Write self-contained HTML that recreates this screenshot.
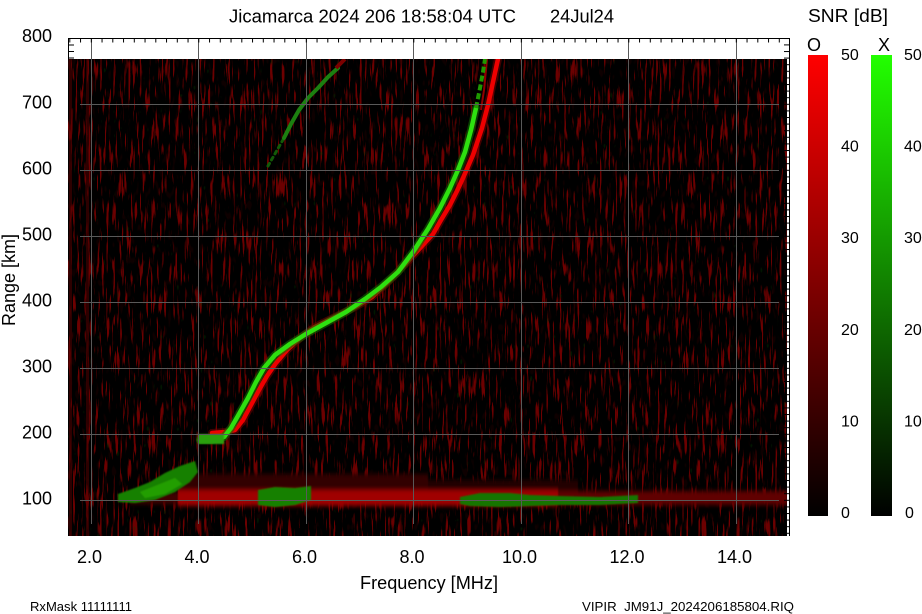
<!DOCTYPE html>
<html><head><meta charset="utf-8"><style>
html,body{margin:0;padding:0;background:#fff;}
svg{display:block;}
text{font-family:"Liberation Sans",Arial,sans-serif;fill:#000;}
</style></head><body>
<svg width="922" height="614" viewBox="0 0 922 614" xmlns="http://www.w3.org/2000/svg">
<defs>
 <clipPath id="clip"><rect x="68" y="59" width="719" height="477"/></clipPath>
 <filter id="nz" filterUnits="userSpaceOnUse" x="68" y="59" width="719" height="477" color-interpolation-filters="sRGB">
  <feTurbulence type="fractalNoise" baseFrequency="0.45 0.035" numOctaves="2" seed="5"/>
  <feColorMatrix type="matrix" values="0 0 0 0 0.55  0 0 0 0 0  0 0 0 0 0  10 0 0 0 -5.9"/>
 </filter>
 <filter id="nz2" filterUnits="userSpaceOnUse" x="68" y="59" width="719" height="477" color-interpolation-filters="sRGB">
  <feTurbulence type="fractalNoise" baseFrequency="0.25 0.09" numOctaves="1" seed="21"/>
  <feColorMatrix type="matrix" values="0 0 0 0 0.35  0 0 0 0 0  0 0 0 0 0  10 0 0 0 -6.0"/>
 </filter>
 <filter id="nzg" filterUnits="userSpaceOnUse" x="68" y="59" width="719" height="477" color-interpolation-filters="sRGB">
  <feTurbulence type="fractalNoise" baseFrequency="0.3 0.12" numOctaves="1" seed="11"/>
  <feColorMatrix type="matrix" values="0 0 0 0 0  0 0 0 0 0.25  0 0 0 0 0  0 14 0 0 -10.2"/>
 </filter>
 <filter id="bl" x="-20%" y="-50%" width="140%" height="200%"><feGaussianBlur stdDeviation="0.6 2.5"/></filter>
 <filter id="bl1" x="-20%" y="-20%" width="140%" height="140%"><feGaussianBlur stdDeviation="0.8"/></filter>
 <linearGradient id="gO" x1="0" y1="0" x2="0" y2="1">
  <stop offset="0" stop-color="#ff0000"/><stop offset="1" stop-color="#000000"/>
 </linearGradient>
 <linearGradient id="gX" x1="0" y1="0" x2="0" y2="1">
  <stop offset="0" stop-color="#22ff00"/><stop offset="1" stop-color="#000000"/>
 </linearGradient>
 <pattern id="tt" patternUnits="userSpaceOnUse" x="69.3" y="0" width="10.75" height="10">
  <rect x="0" y="0" width="1" height="10" fill="#000"/>
 </pattern>
 <pattern id="rt" patternUnits="userSpaceOnUse" x="0" y="37.8" width="10" height="6.6">
  <rect x="0" y="0" width="10" height="1" fill="#000"/>
 </pattern>
</defs>

<rect x="0" y="0" width="922" height="614" fill="#fff"/>

<g clip-path="url(#clip)">
 <rect x="68" y="59" width="719" height="477" fill="#000"/>
 <!-- background noise, stronger on the left -->
 <rect x="68" y="59" width="719" height="477" fill="#fff" filter="url(#nz2)" opacity="0.16"/>
 <rect x="68" y="59" width="719" height="477" fill="#fff" filter="url(#nz)" opacity="0.1"/>
 <rect x="68" y="59" width="230" height="477" fill="#fff" filter="url(#nz)" opacity="0.22"/>
 <rect x="68" y="59" width="170" height="477" fill="#fff" filter="url(#nz)" opacity="0.35"/>
 <rect x="68" y="59" width="100" height="477" fill="#fff" filter="url(#nz)" opacity="0.5"/>
 <rect x="68" y="59" width="719" height="477" fill="#fff" filter="url(#nzg)" opacity="0.35"/>
 <rect x="86" y="59" width="3" height="477" fill="#5a0000" opacity="0.5"/>
 <rect x="69" y="59" width="3" height="477" fill="#5a0000" opacity="0.5"/>

 <!-- E layer red band -->
 <g filter="url(#bl)">
  <rect x="178" y="474" width="250" height="18" fill="#320000"/>
  <rect x="428" y="480" width="150" height="12" fill="#240000"/>
  <rect x="130" y="492" width="48" height="12" fill="#400000"/>
  <rect x="178" y="490" width="380" height="16" fill="#a00000"/>
  <rect x="558" y="491" width="229" height="14" fill="#600000"/>
 </g>

 <!-- green E blobs -->
 <g filter="url(#bl1)">
  <polygon points="118,494 135,488 150,482 165,473 180,466 195,461 198,472 190,482 175,492 155,500 135,503 118,502" fill="#178000"/>
  <polygon points="140,492 160,484 175,478 182,484 165,494 145,498" fill="#239e00"/>
  <polygon points="258,490 275,487 295,488 311,486 311,500 295,505 275,507 258,505" fill="#178000"/>
  <polygon points="460,497 480,493 510,493 530,495 560,496 600,497 638,495 638,503 600,505 560,505 530,506 500,507 470,506 460,504" fill="#147400"/>
 </g>

 <!-- faint echo -->
 <polyline points="268,166 276,152 284,138" fill="none" stroke="#135a08" stroke-width="3" stroke-dasharray="3,4" stroke-linecap="round"/>
 <polyline points="284,138 291,124 299,110 308,98 318,88 328,77 338,68" fill="none" stroke="#1c8010" stroke-width="4" stroke-linejoin="round" stroke-linecap="round"/>
 <polyline points="336,68 341,63 345,59" fill="none" stroke="#7a0000" stroke-width="4"/>

 <!-- O trace (red) -->
 <polyline points="212,433 225,432 235,430 243,420 251,405 259,390 267,376 276,363 287,350 300,338 315,327 335,317 355,307 372,297 390,280 408,261 422,246 433,234 441,220 450,205 457,191 463,178 473,155 482,128 488,105 493,82 498,59" fill="none" stroke="#6a0000" stroke-width="8" stroke-linejoin="round" stroke-linecap="round" opacity="0.6"/>
 <polyline points="212,433 225,432 235,430 243,420 251,405 259,390 267,376 276,363 287,350 300,338 315,327 335,317 355,307 372,297 390,280 408,261 422,246 433,234 441,220 450,205 457,191 463,178 473,155 482,128 488,105 493,82 498,59" fill="none" stroke="#ee0000" stroke-width="4.5" stroke-linejoin="round" stroke-linecap="round"/>
 <polyline points="481,110 484,90 486,70 487,59" fill="none" stroke="#900000" stroke-width="2"/>

 <!-- X trace (green) -->
 <polyline points="200,440 212,440 224,437 231,428 239,414 248,398 256,382 264,368 275,355 290,344 306,334 326,323 346,312 365,299 381,287 398,272 413,252 428,229 440,208 450,188 458,170 465,152 471,130 476,108" fill="none" stroke="#0e6a00" stroke-width="8" stroke-linejoin="round" stroke-linecap="round" opacity="0.6"/>
 <polyline points="200,440 212,440 224,437 231,428 239,414 248,398 256,382 264,368 275,355 290,344 306,334 326,323 346,312 365,299 381,287 398,272 413,252 428,229 440,208 450,188 458,170 465,152 471,130 476,108" fill="none" stroke="#2ee010" stroke-width="4.5" stroke-linejoin="round" stroke-linecap="round"/>
 <polyline points="476,108 480,88 483,72 485,59" fill="none" stroke="#1e9a00" stroke-width="4" stroke-dasharray="6,3"/>
 <rect x="198" y="434" width="26" height="10" fill="#2aa010" filter="url(#bl1)"/>
</g>

<!-- gridlines -->
<g stroke="#595959" stroke-width="1">
 <line x1="91.5" y1="38" x2="91.5" y2="524"/>
 <line x1="198.5" y1="38" x2="198.5" y2="524"/>
 <line x1="306.5" y1="38" x2="306.5" y2="524"/>
 <line x1="413.5" y1="38" x2="413.5" y2="524"/>
 <line x1="521.5" y1="38" x2="521.5" y2="524"/>
 <line x1="628.5" y1="38" x2="628.5" y2="524"/>
 <line x1="736.5" y1="38" x2="736.5" y2="524"/>
 <line x1="80" y1="104.5" x2="779" y2="104.5"/>
 <line x1="80" y1="170.5" x2="779" y2="170.5"/>
 <line x1="80" y1="236.5" x2="779" y2="236.5"/>
 <line x1="80" y1="302.5" x2="779" y2="302.5"/>
 <line x1="80" y1="368.5" x2="779" y2="368.5"/>
 <line x1="80" y1="434.5" x2="779" y2="434.5"/>
 <line x1="80" y1="500.5" x2="779" y2="500.5"/>
</g>

<!-- frame -->
<rect x="787" y="59" width="2" height="477" fill="#fff"/>
<rect x="68" y="38" width="721" height="4.5" fill="url(#tt)"/>
<rect x="784" y="38" width="5" height="498" fill="url(#rt)"/>
<g stroke="#000" stroke-width="1">
 <line x1="68" y1="38.5" x2="789.5" y2="38.5"/>
 <line x1="68.5" y1="38" x2="68.5" y2="59"/>
 <line x1="789.5" y1="38" x2="789.5" y2="536"/>
 <line x1="68" y1="45" x2="74" y2="45"/>
 <line x1="68" y1="51.5" x2="74" y2="51.5"/>
 <line x1="68" y1="58" x2="74" y2="58"/>
</g>

<!-- titles -->
<text x="229" y="22.5" font-size="18" textLength="287" lengthAdjust="spacingAndGlyphs">Jicamarca 2024 206 18:58:04 UTC</text>
<text x="550" y="22.5" font-size="18" textLength="64" lengthAdjust="spacingAndGlyphs">24Jul24</text>

<!-- y labels -->
<g font-size="18" text-anchor="end">
 <text x="52" y="42">800</text>
 <text x="52" y="108.3">700</text>
 <text x="52" y="174.3">600</text>
 <text x="52" y="240.3">500</text>
 <text x="52" y="306.3">400</text>
 <text x="52" y="372.3">300</text>
 <text x="52" y="438.3">200</text>
 <text x="52" y="504.3">100</text>
</g>
<text transform="translate(15,280) rotate(-90)" font-size="18" text-anchor="middle">Range [km]</text>

<!-- x labels -->
<g font-size="18" text-anchor="middle">
 <text x="89.5" y="563">2.0</text>
 <text x="197" y="563">4.0</text>
 <text x="304.5" y="563">6.0</text>
 <text x="412" y="563">8.0</text>
 <text x="519.5" y="563">10.0</text>
 <text x="627" y="563">12.0</text>
 <text x="734.5" y="563">14.0</text>
</g>
<text x="360" y="589" font-size="18" textLength="138" lengthAdjust="spacingAndGlyphs">Frequency [MHz]</text>

<!-- colorbars -->
<text x="808" y="22" font-size="18" textLength="80" lengthAdjust="spacingAndGlyphs">SNR [dB]</text>
<text x="807" y="51" font-size="18">O</text>
<text x="878" y="51" font-size="18">X</text>
<rect x="808" y="55" width="20" height="461" fill="url(#gO)"/>
<rect x="871" y="55" width="21" height="461" fill="url(#gX)"/>
<g font-size="16" fill="#222">
 <text x="841" y="60">50</text>
 <text x="841" y="151.6">40</text>
 <text x="841" y="243.2">30</text>
 <text x="841" y="334.8">20</text>
 <text x="841" y="426.4">10</text>
 <text x="841" y="518">0</text>
 <text x="904" y="60">50</text>
 <text x="904" y="151.6">40</text>
 <text x="904" y="243.2">30</text>
 <text x="904" y="334.8">20</text>
 <text x="904" y="426.4">10</text>
 <text x="905" y="518">0</text>
</g>

<!-- footer -->
<text x="30" y="611" font-size="13" textLength="102" lengthAdjust="spacingAndGlyphs">RxMask 11111111</text>
<text x="582" y="611" font-size="13" textLength="212" lengthAdjust="spacingAndGlyphs" style="white-space:pre">VIPIR  JM91J_2024206185804.RIQ</text>
</svg>
</body></html>
